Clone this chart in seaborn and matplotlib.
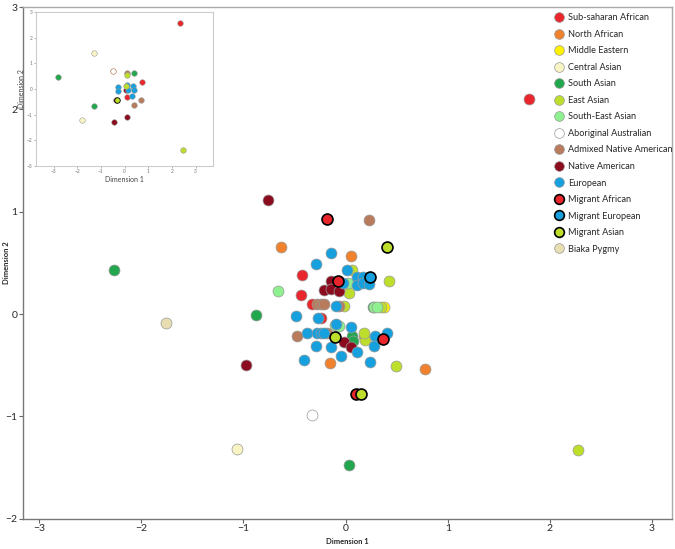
import matplotlib
matplotlib.use("Agg")
import matplotlib.pyplot as plt
from matplotlib.lines import Line2D
import seaborn as sns
import pandas as pd

sns.set_style("white")
plt.rcParams['font.family'] = ['Lato', 'DejaVu Sans']

groups = ["Sub-saharan African", "North African", "Middle Eastern", "Central Asian",
          "South Asian", "East Asian", "South-East Asian", "Aboriginal Australian",
          "Admixed Native American", "Native American", "European", "Migrant African",
          "Migrant European", "Migrant Asian", "Biaka Pygmy"]
face_colors = ["#e8262b", "#f0822e", "#fff200", "#f8f4c4", "#22a64e", "#bddf2c", "#8ef08e",
               "#ffffff", "#b87c5c", "#8a0c1e", "#16a0de", "#e8262b", "#16a0de", "#bddf2c",
               "#e9ddb2"]
edge_colors = ["#999999"] * 11 + ["#000000"] * 3 + ["#999999"]

# ---- main plot data ----
x_subsah = [1.80, -0.43, -0.44, -0.33, -0.24]
y_subsah = [2.10, 0.38, 0.19, 0.10, -0.04]
x_nafr = [-0.63, 0.05, -0.15, 0.78, 0.18]
y_nafr = [0.66, 0.57, -0.48, -0.54, -0.21]
x_mideast = [0.38]
y_mideast = [0.07]
x_casian = [-1.06]
y_casian = [-1.32]
x_sasian = [-2.27, -0.88, 0.03, 0.06, 0.07, 0.27]
y_sasian = [0.43, -0.01, -1.47, -0.21, -0.26, 0.07]
x_seasian = [-0.66, 0.02, -0.10, -0.06, 0.28, 0.31]
y_seasian = [0.23, 0.30, -0.11, -0.12, 0.07, 0.07]
x_easian = [2.28, 0.43, 0.06, 0.03, -0.02, 0.35, 0.49, 0.19, 0.18]
y_easian = [-1.33, 0.32, 0.43, 0.21, 0.08, 0.07, -0.51, -0.25, -0.18]
x_aborig = [-0.33]
y_aborig = [-0.99]
x_admixed = [0.23, -0.28, -0.24, -0.21, -0.06, -0.48, -0.18]
y_admixed = [0.92, 0.10, 0.10, 0.10, 0.08, -0.21, -0.18]
x_natam = [-0.76, -0.98, -0.14, -0.21, -0.14, -0.06, -0.02, 0.05]
y_natam = [1.12, -0.50, 0.32, 0.24, 0.25, 0.23, -0.27, -0.32]
x_europ = [-0.14, -0.29, 0.01, 0.11, 0.17, 0.11, 0.17, 0.23, -0.03, -0.49, -0.27, -0.09,
           -0.38, -0.28, -0.24, -0.21, 0.05, 0.29, 0.41, 0.28, -0.29, -0.14, -0.04, 0.11,
           -0.41, 0.24, -0.09]
y_europ = [0.60, 0.49, 0.43, 0.36, 0.36, 0.28, 0.30, 0.29, 0.30, -0.02, -0.04, 0.08,
           -0.18, -0.18, -0.18, -0.18, -0.13, -0.21, -0.18, -0.31, -0.31, -0.32, -0.41, -0.37,
           -0.45, -0.47, -0.10]
x_migafr = [-0.07, -0.18, 0.37, 0.10]
y_migafr = [0.32, 0.93, -0.24, -0.78]
x_migeur = [0.24]
y_migeur = [0.36]
x_migasi = [0.41, -0.10, 0.15]
y_migasi = [0.66, -0.22, -0.78]
x_biaka = [-1.76]
y_biaka = [-0.09]

main_x = [x_subsah, x_nafr, x_mideast, x_casian, x_sasian, x_easian, x_seasian, x_aborig,
          x_admixed, x_natam, x_europ, x_migafr, x_migeur, x_migasi, x_biaka]
main_y = [y_subsah, y_nafr, y_mideast, y_casian, y_sasian, y_easian, y_seasian, y_aborig,
          y_admixed, y_natam, y_europ, y_migafr, y_migeur, y_migasi, y_biaka]

# ---- inset data ----
ix_subsah = [2.35, 0.09, 0.73]
iy_subsah = [2.57, -0.30, 0.28]
ix_casian = [-1.28, -1.79]
iy_casian = [1.39, -1.21]
ix_aborig = [-0.47]
iy_aborig = [0.71]
ix_admixed = [0.12, 0.69, 0.42]
iy_admixed = [0.62, -0.43, -0.62]
ix_easian = [0.12, 0.05, 2.49]
iy_easian = [0.55, 0.13, -2.37]
ix_sasian = [0.40, -2.80, -1.29]
iy_sasian = [0.63, 0.48, -0.65]
ix_natam = [0.09, -0.44, -0.36, 0.07]
iy_natam = [-1.08, -1.30, -0.45, -0.04]
ix_europ = [-0.26, -0.26, 0.09, 0.16, 0.37, 0.40, 0.33]
iy_europ = [0.09, -0.08, 0.16, -0.04, 0.13, -0.04, -0.26]
ix_migasi = [-0.30]
iy_migasi = [-0.45]

inset_sets = [("Sub-saharan African", ix_subsah, iy_subsah),
              ("Central Asian", ix_casian, iy_casian),
              ("Aboriginal Australian", ix_aborig, iy_aborig),
              ("Admixed Native American", ix_admixed, iy_admixed),
              ("Native American", ix_natam, iy_natam),
              ("European", ix_europ, iy_europ),
              ("South Asian", ix_sasian, iy_sasian),
              ("East Asian", ix_easian, iy_easian),
              ("Migrant Asian", ix_migasi, iy_migasi)]

fig = plt.figure(figsize=(6.75, 5.49), dpi=100)
ax = fig.add_axes([0.034, 0.055, 0.962, 0.932])

rows = []
for g, xs, ys in zip(groups, main_x, main_y):
    for xv, yv in zip(xs, ys):
        rows.append({"group": g, "Dimension 1": xv, "Dimension 2": yv})
df = pd.DataFrame(rows)

for g, fc, ec in zip(groups, face_colors, edge_colors):
    sub = df[df["group"] == g]
    lw = 1.2 if ec == "#000000" else 0.5
    sns.scatterplot(data=sub, x="Dimension 1", y="Dimension 2", ax=ax, s=62,
                    color=fc, edgecolor=ec, linewidth=lw, legend=False, zorder=3)

ax.set_xlim(-3.16, 3.2)
ax.set_ylim(-2, 3)
ax.set_xticks([-3, -2, -1, 0, 1, 2, 3])
ax.set_yticks([-2, -1, 0, 1, 2, 3])
ax.tick_params(axis="both", labelsize=7.5, length=3, width=0.8, color="#666666",
               direction="out", pad=1, left=True, bottom=True)
for sp in ax.spines.values():
    sp.set_color("#aaaaaa")
    sp.set_linewidth(1.0)
ax.spines["left"].set_color("#777777")
ax.spines["bottom"].set_color("#777777")
ax.set_xlabel("Dimension 1", fontsize=5.5, fontweight="bold", labelpad=3)
ax.set_ylabel("Dimension 2", fontsize=5.5, fontweight="bold")
ax.yaxis.set_label_coords(-0.02, 0.5)

handles = []
for g, fc, ec in zip(groups, face_colors, edge_colors):
    lw = 1.2 if ec == "#000000" else 0.5
    handles.append(Line2D([0], [0], marker="o", linestyle="", markersize=7,
                          markerfacecolor=fc, markeredgecolor=ec, markeredgewidth=lw, label=g))
ax.legend(handles=handles, loc="upper left", bbox_to_anchor=(0.812, 0.995), frameon=False,
          fontsize=6.6, labelspacing=0.82, handletextpad=0.3, borderaxespad=0.0,
          handlelength=1.2)

# inset
iax = fig.add_axes([0.053, 0.698, 0.263, 0.28])
color_map = dict(zip(groups, face_colors))
edge_map = dict(zip(groups, edge_colors))
for g, xs, ys in inset_sets:
    idf = pd.DataFrame({"Dimension 1": xs, "Dimension 2": ys})
    ec = edge_map[g]
    if g == "Aboriginal Australian":
        ec = "#a0603a"
    sns.scatterplot(data=idf, x="Dimension 1", y="Dimension 2", ax=iax, s=16,
                    color=color_map[g], edgecolor=ec, linewidth=0.6 if ec == "#000000" else 0.4,
                    legend=False, zorder=3)
iax.set_xlim(-3.75, 3.75)
iax.set_ylim(-3, 3)
iax.set_xticks([-3, -2, -1, 0, 1, 2, 3])
iax.set_yticks([-3, -2, -1, 0, 1, 2, 3])
iax.tick_params(axis="both", labelsize=3.5, length=1.5, width=0.4, pad=1, colors="#777777",
                left=True, bottom=True)
for sp in iax.spines.values():
    sp.set_color("#cccccc")
    sp.set_linewidth(0.8)
iax.set_xlabel("Dimension 1", fontsize=5, labelpad=1, color="#444444")
iax.set_ylabel("Dimension 2", fontsize=5, labelpad=1, color="#444444")

fig.savefig("out.png", dpi=100)
